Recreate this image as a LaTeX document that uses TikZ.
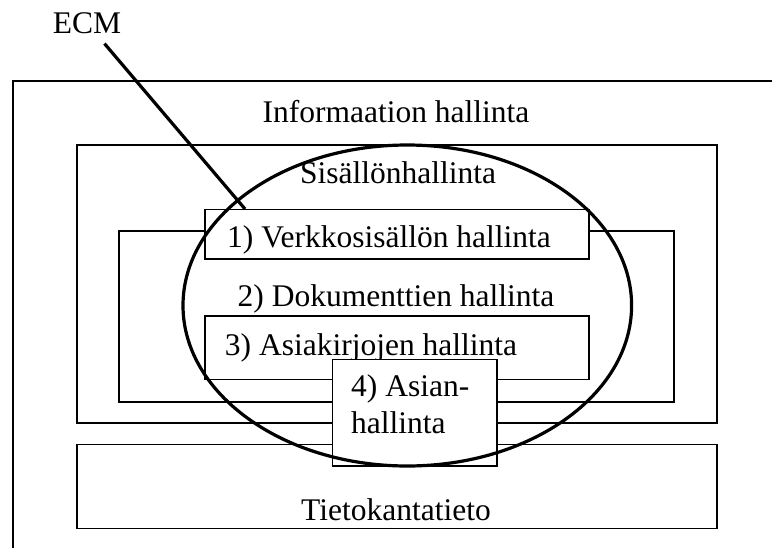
\documentclass[tikz,border=0pt]{standalone}
\usepackage{fontspec}
\setmainfont{Liberation Serif}
\usepackage{tikz}
\usetikzlibrary{positioning,shapes.geometric}

\begin{document}
\begin{tikzpicture}[
  x=1pt, y=-1pt,
  font=\fontsize{31.5}{36.3}\selectfont,
  box/.style={draw, line width=1.6pt, fill=white, inner sep=0pt},
  txt/.style={inner sep=0pt, anchor=base},
  ecmline/.style={line width=3.2pt}
]
\useasboundingbox (0,0) rectangle (772,547);

% Outer frame (runs off the page)
\draw[line width=1.6pt] (790,81) -| (12.7,560);
\node[txt] (info) at (396,122) {Informaation hallinta};

% Content management and database
\node[box, minimum width=640pt, minimum height=277.7pt] (sisalto) at (396.7,283.85) {};
\node[box, minimum width=640pt, minimum height=84pt] (tietokanta) at (396.7,486.3) {};
\node[txt] (sisaltotxt) at (398,183) {Sisällönhallinta};
\node[txt] (tietokantatxt) at (396,520) {Tietokantatieto};

% Document management
\node[box, minimum width=555pt, minimum height=171pt] (dokumentit) at (396.5,316.2) {};
\node[txt] (dokumentittxt) at (396,306.7) {2) Dokumenttien hallinta};

% Web content and records
\node[box, minimum width=384pt, minimum height=49.7pt] (verkko) at (397,234.15) {};
\node[txt] (verkkotxt) at (389,247.3) {1) Verkkosisällön hallinta};
\node[box, minimum width=384pt, minimum height=63.3pt] (asiakirjat) at (397,347.65) {};
\node[txt] (asiakirjattxt) at (371,355) {3) Asiakirjojen hallinta};

% Case management
\node[box, minimum width=164.2pt, minimum height=106.4pt] (asiat) at (414.6,412.5) {};
\node[txt, anchor=base west, align=left] (asiattxt) at (351,433) {4) Asian-\\hallinta};

% ECM
\node[draw, ecmline, ellipse, inner sep=0pt, minimum width=448.6pt, minimum height=321pt] (ecmellipse) at (407.3,305.5) {};
\node[txt] (ecm) at (87,33.3) {ECM};
\coordinate (ecmtip) at (245,209);
\draw[ecmline, shorten <=27pt] (ecm.center) -- (ecmtip);

\end{tikzpicture}
\end{document}
